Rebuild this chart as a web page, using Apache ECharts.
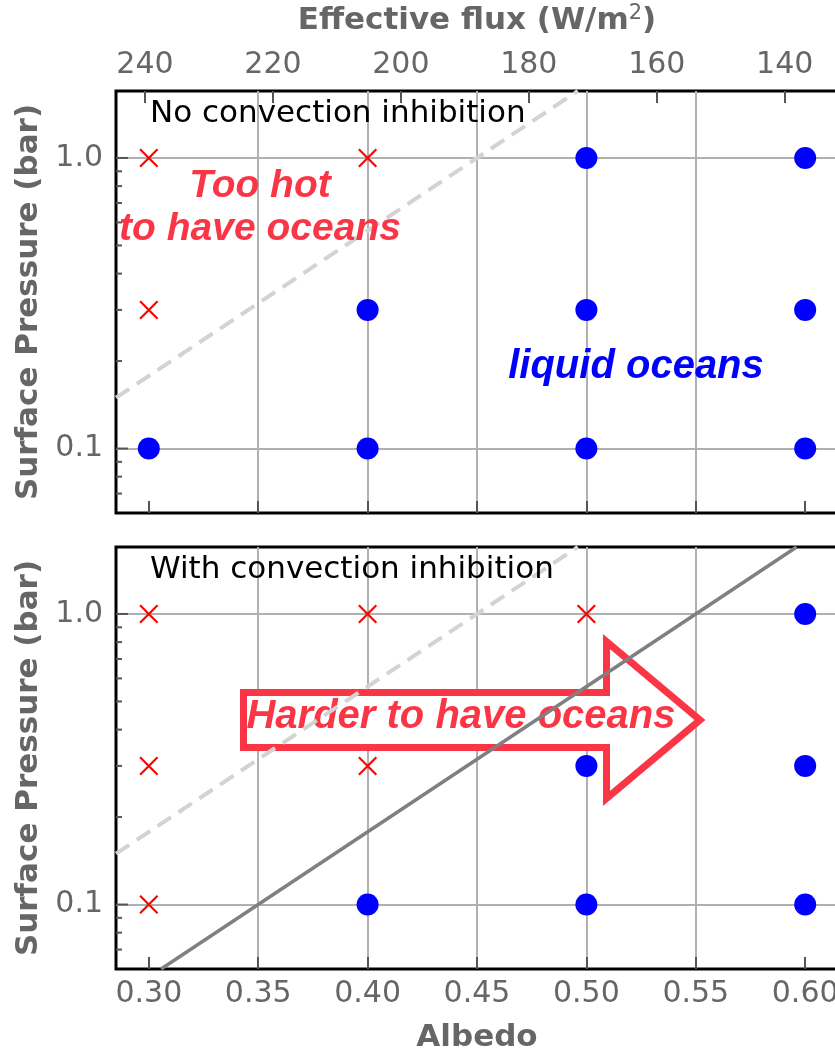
<!DOCTYPE html>
<html>
<head>
<meta charset="utf-8">
<script src="https://cdn.jsdelivr.net/npm/echarts@6/dist/echarts.min.js"></script>
<style>
  html, body { margin: 0; padding: 0; background: #fff; }
  #chart { width: 835px; height: 1050px; }
</style>
</head>
<body>
<div id="chart"></div>
<script>
// axis ticks
const albedoTicks = [0.30, 0.35, 0.40, 0.45, 0.50, 0.55, 0.60]
const fluxTicks = [240, 220, 200, 180, 160, 140]
const pressureMajor = [0.1, 1.0]
const pressureMinor = [0.07, 0.08, 0.09, 0.2, 0.3, 0.4, 0.5, 0.6, 0.7, 0.8, 0.9]

// top panel: no convection inhibition
const noInhHot = [[0.3, 1.0], [0.3, 0.3], [0.4, 1.0]]
const noInhOcean = [[0.3, 0.1], [0.4, 0.3], [0.4, 0.1], [0.5, 1.0], [0.5, 0.3], [0.5, 0.1], [0.6, 1.0], [0.6, 0.3], [0.6, 0.1]]
// bottom panel: with convection inhibition
const inhHot = [[0.3, 1.0], [0.3, 0.3], [0.3, 0.1], [0.4, 1.0], [0.4, 0.3], [0.5, 1.0]]
const inhOcean = [[0.4, 0.1], [0.5, 0.3], [0.5, 0.1], [0.6, 1.0], [0.6, 0.3], [0.6, 0.1]]

// ocean limit lines (albedo, pressure)
const limitNoInh = [[0.285, 0.1496], [0.45, 1.0], [0.4961, 1.7]]
const limitInh = [[0.3056, 0.06], [0.35, 0.1], [0.55, 1.0], [0.5961, 1.7]]

const albedoMin = 0.285, albedoMax = 0.615
const pMin = 0.06, pMax = 1.7
const S0 = 342 // effective flux = S0 * (1 - albedo)

const grey = '#666'
const red = '#fa3646'
const crossPath = 'path://M0,0.8L0.8,0L10,9.2L9.2,10Z M9.2,0L10,0.8L0.8,10L0,9.2Z'

const tickStyle = { inside: true, length: 12, lineStyle: { color: '#555', width: 2 } }
const labelFont = { fontFamily: 'DejaVu Sans', fontSize: 30, color: grey }
const nameFont = { fontFamily: 'DejaVu Sans', fontSize: 31, fontWeight: 'bold', color: grey }
const gridLine = { show: true, showMinLine: false, showMaxLine: false, lineStyle: { color: '#b0b0b0', width: 2 } }

function albedoAxis (gridIndex, labels) {
  return {
    gridIndex: gridIndex,
    type: 'value',
    position: 'bottom',
    min: albedoMin,
    max: albedoMax,
    axisLine: { show: false },
    axisTick: Object.assign({ customValues: albedoTicks }, tickStyle),
    axisLabel: Object.assign({ show: labels, customValues: albedoTicks, margin: 10, formatter: v => v.toFixed(2) }, labelFont),
    splitLine: gridLine
  }
}

function pressureAxis (gridIndex) {
  return {
    gridIndex: gridIndex,
    type: 'log',
    logBase: 10,
    min: pMin,
    max: pMax,
    name: 'Surface Pressure (bar)',
    nameLocation: 'middle',
    nameGap: 72,
    nameTextStyle: nameFont,
    axisLine: { show: false },
    axisTick: { show: false },
    axisLabel: Object.assign({
      margin: 13,
      formatter: v => {
        const e = Math.log10(v)
        return Math.abs(e - Math.round(e)) < 1e-6 ? v.toFixed(1) : ''
      }
    }, labelFont),
    splitLine: gridLine
  }
}

// y ticks drawn through the axis scale
function yTicks (idx, values, len) {
  return {
    type: 'custom',
    xAxisIndex: idx === 0 ? 0 : 2,
    yAxisIndex: idx,
    silent: true,
    z: 3,
    data: values.map(p => [albedoMin, p]),
    renderItem: (params, api) => {
      const p = api.coord([api.value(0), api.value(1)])
      return {
        type: 'line',
        shape: { x1: p[0], y1: p[1], x2: p[0] + len, y2: p[1] },
        style: { stroke: '#555', lineWidth: 2 }
      }
    }
  }
}

function panelSeries (idx, hot, ocean, lines) {
  const xi = idx === 0 ? 0 : 2
  const out = []
  lines.forEach(l => {
    out.push({
      type: 'line',
      xAxisIndex: xi,
      yAxisIndex: idx,
      data: l.data,
      showSymbol: false,
      silent: true,
      clip: true,
      z: 2,
      lineStyle: l.style
    })
  })
  out.push({
    type: 'scatter',
    xAxisIndex: xi,
    yAxisIndex: idx,
    data: hot,
    symbol: crossPath,
    symbolSize: 19,
    itemStyle: { color: '#ff0000', opacity: 1 },
    z: 4
  })
  out.push({
    type: 'scatter',
    xAxisIndex: xi,
    yAxisIndex: idx,
    data: ocean,
    symbol: 'circle',
    symbolSize: 22,
    itemStyle: { color: '#0000ff', opacity: 1 },
    z: 4
  })
  out.push(yTicks(idx, pressureMajor, 12))
  out.push(yTicks(idx, pressureMinor, 6))
  return out
}

const dashed = { color: '#d3d3d3', width: 4, type: [16, 9] }
const solid = { color: '#808080', width: 3.5, type: 'solid' }

const chart = echarts.init(document.getElementById('chart'), null, { renderer: 'canvas' })

const gridBase = { left: 116, width: 722, height: 422, show: true, borderColor: '#000', borderWidth: 3, backgroundColor: 'transparent', outerBoundsMode: 'none', containLabel: false }

const options = {
  animation: false,
  backgroundColor: '#fff',
  grid: [
    Object.assign({ top: 91 }, gridBase),
    Object.assign({ top: 547 }, gridBase)
  ],
  xAxis: [
    albedoAxis(0, false),
    {
      gridIndex: 0,
      type: 'value',
      position: 'top',
      inverse: true,
      min: S0 * (1 - albedoMax),
      max: S0 * (1 - albedoMin),
      name: '{b|Effective flux (W/m}{s|2}{b|)}',
      nameLocation: 'middle',
      nameGap: 52,
      nameTextStyle: {
        rich: {
          b: Object.assign({ lineHeight: 36 }, nameFont),
          s: { fontFamily: 'DejaVu Sans', fontSize: 21, color: grey, lineHeight: 22, verticalAlign: 'top' }
        }
      },
      axisLine: { show: false },
      axisTick: Object.assign({ customValues: fluxTicks }, tickStyle),
      axisLabel: Object.assign({ customValues: fluxTicks, margin: 11 }, labelFont),
      splitLine: { show: false }
    },
    Object.assign(albedoAxis(1, true), {
      name: 'Albedo',
      nameLocation: 'middle',
      nameGap: 53,
      nameTextStyle: nameFont
    })
  ],
  yAxis: [pressureAxis(0), pressureAxis(1)],
  series: [
    ...panelSeries(0, noInhHot, noInhOcean, [{ data: limitNoInh, style: dashed }]),
    ...panelSeries(1, inhHot, inhOcean, [{ data: limitNoInh, style: dashed }, { data: limitInh, style: solid }])
  ],
  graphic: [
    {
      type: 'text', x: 150, y: 114, z: 5,
      style: { text: 'No convection inhibition', fontFamily: 'DejaVu Sans', fontSize: 31, fill: '#000', verticalAlign: 'middle' }
    },
    {
      type: 'text', x: 150, y: 570, z: 5,
      style: { text: 'With convection inhibition', fontFamily: 'DejaVu Sans', fontSize: 31, fill: '#000', verticalAlign: 'middle' }
    },
    {
      type: 'text', x: 260, y: 208, z: 5,
      style: { text: 'Too hot\nto have oceans', fontFamily: 'Liberation Sans', fontSize: 39, fontWeight: 'bold', fontStyle: 'italic', fill: red, align: 'center', verticalAlign: 'middle', lineHeight: 43 }
    },
    {
      type: 'text', x: 636, y: 367, z: 5,
      style: { text: 'liquid oceans', fontFamily: 'Liberation Sans', fontSize: 40, fontWeight: 'bold', fontStyle: 'italic', fill: '#0000ff', align: 'center', verticalAlign: 'middle' }
    },
    {
      type: 'polygon', z: 1,
      shape: { points: [[243.5, 692.5], [606.5, 692.5], [606.5, 641.5], [700, 720], [606.5, 798.5], [606.5, 747.5], [243.5, 747.5]] },
      style: { fill: '#fff', stroke: red, lineWidth: 7, lineJoin: 'miter' }
    },
    {
      type: 'text', x: 461, y: 717, z: 1,
      style: { text: 'Harder to have oceans', fontFamily: 'Liberation Sans', fontSize: 40, fontWeight: 'bold', fontStyle: 'italic', fill: red, align: 'center', verticalAlign: 'middle' }
    }
  ]
}

chart.setOption(options)
</script>
</body>
</html>
